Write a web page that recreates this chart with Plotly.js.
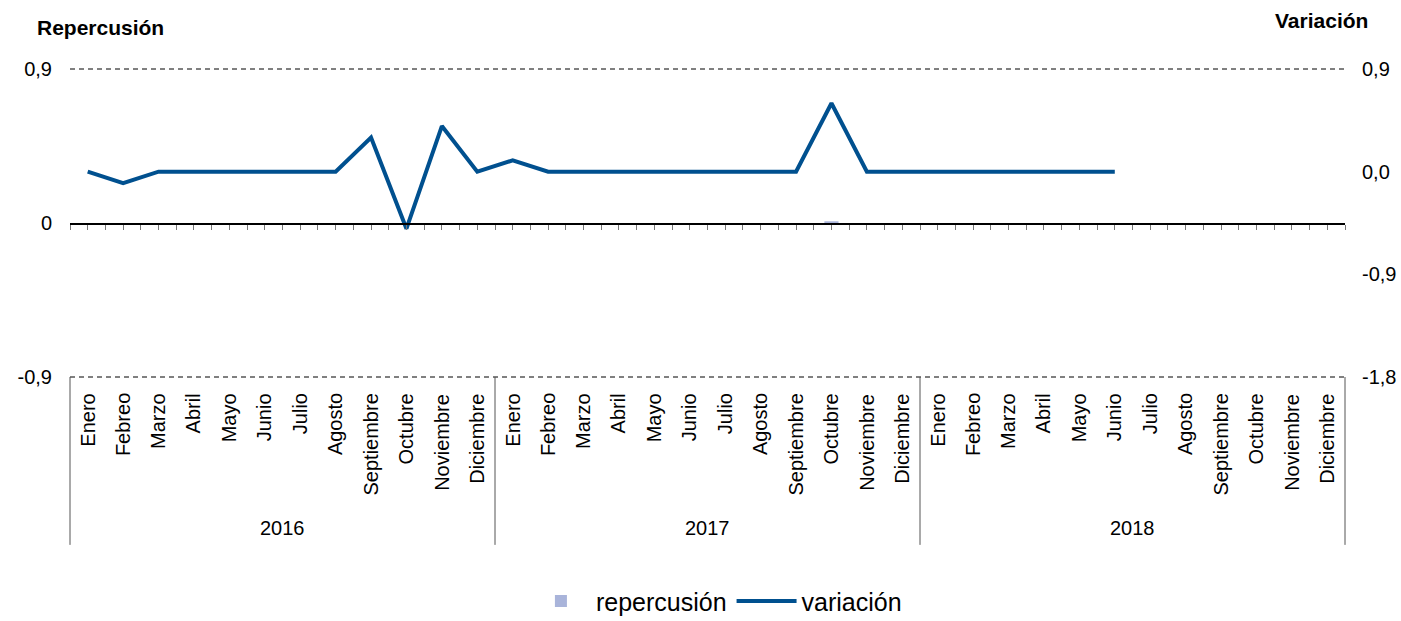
<!DOCTYPE html>
<html>
<head>
<meta charset="utf-8">
<script src="https://cdn.plot.ly/plotly-3.0.1.min.js"></script>
<style>html,body{margin:0;padding:0;background:#fff;}#chart{width:1401px;height:621px;}</style>
</head>
<body>
<div id="chart"></div>
<script>
// ---- data ----
var years = ["2016", "2017", "2018"];
var months = ["Enero", "Febreo", "Marzo", "Abril", "Mayo", "Junio", "Julio", "Agosto", "Septiembre", "Octubre", "Noviembre", "Diciembre"];
var repercusion = [
  0, 0, 0, 0, 0, 0, 0, 0, 0, 0, 0, 0,
  0, 0, 0, 0, 0, 0, 0, 0, 0, 0.01, 0, 0,
  0, 0, 0, 0, 0, 0, null, null, null, null, null, null
];
var variacion = [
  0.0, -0.1, 0.0, 0.0, 0.0, 0.0, 0.0, 0.0, 0.3, -0.5, 0.4, 0.0,
  0.1, 0.0, 0.0, 0.0, 0.0, 0.0, 0.0, 0.0, 0.0, 0.6, 0.0, 0.0,
  0.0, 0.0, 0.0, 0.0, 0.0, 0.0, null, null, null, null, null, null
];
var leftTicks = [-0.9, 0, 0.9];
var leftTickText = ["-0,9", "0", "0,9"];
var rightTicks = [-1.8, -0.9, 0.0, 0.9];
var rightTickText = ["-1,8", "-0,9", "0,0", "0,9"];

// ---- build ----
var n = years.length * months.length;
var idx = [];
for (var i = 0; i < n; i++) idx.push(i);
var halfTicks = [];
for (var k = -0.5; k <= n - 0.5 + 1e-9; k += 0.5) halfTicks.push(k);

var FONT = "Arial, 'Liberation Sans', sans-serif";

var traces = [
  {
    type: "bar", name: "repercusión", x: idx, y: repercusion,
    xaxis: "x", yaxis: "y", width: 0.4,
    marker: {color: "#A9B4DA"}, hoverinfo: "skip"
  },
  {
    type: "scatter", mode: "lines", name: "variación", x: idx, y: variacion,
    xaxis: "x", yaxis: "y2", connectgaps: false,
    line: {color: "#00508F", width: 4}, hoverinfo: "skip"
  }
];

var annotations = [];
for (var y = 0; y < years.length; y++) {
  for (var m = 0; m < months.length; m++) {
    annotations.push({
      x: y * months.length + m, xref: "x", y: -0.047, yref: "paper",
      text: months[m], textangle: -90, showarrow: false,
      xanchor: "center", yanchor: "top",
      font: {family: FONT, size: 20, color: "#000"}
    });
  }
  annotations.push({
    x: y * months.length + (months.length - 1) / 2, xref: "x", y: -0.49, yref: "paper",
    text: years[y], showarrow: false, xanchor: "center", yanchor: "middle",
    font: {family: FONT, size: 20, color: "#000"}
  });
}
annotations.push({
  x: -0.0275, xref: "paper", y: 1.136, yref: "paper", text: "<b>Repercusión</b>",
  showarrow: false, xanchor: "left", yanchor: "middle",
  font: {family: FONT, size: 21, color: "#000"}
});
annotations.push({
  x: 1.0196, xref: "paper", y: 1.159, yref: "paper", text: "<b>Variación</b>",
  showarrow: false, xanchor: "right", yanchor: "middle",
  font: {family: FONT, size: 21, color: "#000"}
});

var shapes = [];
// dashed gridlines at top and bottom of the left axis range
[0, 1].forEach(function (p) {
  shapes.push({
    type: "line", xref: "paper", yref: "paper", x0: 0, x1: 1, y0: p, y1: p,
    line: {color: "#000", width: 1, dash: "5px,4px"}, layer: "below"
  });
});
// year dividers
for (var d = 0; d <= years.length; d++) {
  shapes.push({
    type: "line", xref: "paper", yref: "paper",
    x0: d / years.length, x1: d / years.length, y0: 0, y1: -0.545,
    line: {color: "#555", width: 1}
  });
}

var layout = {
  width: 1401, height: 621,
  margin: {l: 70, r: 56, t: 69, b: 244, pad: 0, autoexpand: false},
  paper_bgcolor: "#fff", plot_bgcolor: "#fff",
  showlegend: true,
  legend: {
    orientation: "h", x: 0.507, xanchor: "center", y: -0.728, yanchor: "middle",
    font: {family: FONT, size: 25, color: "#000"}, traceorder: "normal", itemwidth: 60
  },
  bargap: 0.6,
  xaxis: {
    type: "linear", range: [-0.5, n - 0.5], anchor: "free", position: 0.5,
    showgrid: false, zeroline: false, showline: true, linecolor: "#000", linewidth: 1.5,
    ticks: "outside", ticklen: 5, tickcolor: "#777", tickwidth: 1,
    tickmode: "array", tickvals: halfTicks, showticklabels: false, fixedrange: true
  },
  yaxis: {
    range: [-0.9, 0.9], tickmode: "array", tickvals: leftTicks, ticktext: leftTickText,
    showgrid: false, zeroline: false, showline: false, ticks: "", ticklabelstandoff: 17,
    tickfont: {family: FONT, size: 20, color: "#000"}, fixedrange: true
  },
  yaxis2: {
    range: [-1.8, 0.9], overlaying: "y", side: "right", anchor: "x",
    tickmode: "array", tickvals: rightTicks, ticktext: rightTickText,
    showgrid: false, zeroline: false, showline: false, ticks: "", ticklabelstandoff: 16,
    tickfont: {family: FONT, size: 20, color: "#000"}, fixedrange: true
  },
  annotations: annotations,
  shapes: shapes
};

Plotly.newPlot("chart", traces, layout, {staticPlot: true, displayModeBar: false});
</script>
</body>
</html>
